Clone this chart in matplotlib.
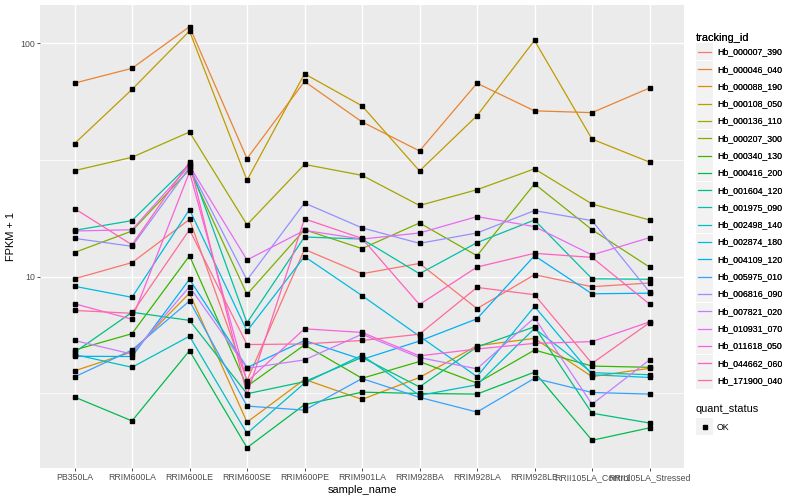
import numpy as np
import matplotlib
matplotlib.use("Agg")
import matplotlib.pyplot as plt
from matplotlib.lines import Line2D
from matplotlib.patches import Rectangle
from matplotlib.legend_handler import HandlerBase
from matplotlib.ticker import FixedLocator, NullFormatter

plt.rcParams['font.family'] = ['Liberation Sans', 'DejaVu Sans']

# Samples (x axis)
samples = ['PB350LA', 'RRIM600LA', 'RRIM600LE', 'RRIM600SE', 'RRIM600PE', 'RRIM901LA',
           'RRIM928BA', 'RRIM928LA', 'RRIM928LE', 'RRII105LA_Control', 'RRII105LA_Stressed']

# Genes (one line each), values are FPKM + 1
genes = ['Hb_000007_390', 'Hb_000046_040', 'Hb_000088_190', 'Hb_000108_050', 'Hb_000136_110',
         'Hb_000207_300', 'Hb_000340_130', 'Hb_000416_200', 'Hb_001604_120', 'Hb_001975_090',
         'Hb_002498_140', 'Hb_002874_180', 'Hb_004109_120', 'Hb_005975_010', 'Hb_006816_090',
         'Hb_007821_020', 'Hb_010931_070', 'Hb_011618_050', 'Hb_044662_060', 'Hb_171900_040']

hb_000007_390 = [9.8, 11.5, 17.6, 3.59, 13.1, 10.3, 11.4, 7.3, 10.2, 9.06, 9.4]
hb_000046_040 = [67.6, 78.2, 118, 32.1, 68.7, 46.1, 34.6, 67.5, 51.4, 50.5, 64.4]
hb_000088_190 = [3.95, 4.76, 8.5, 2.38, 3.63, 2.98, 3.7, 5.06, 5.44, 3.73, 4.05]
hb_000108_050 = [37.2, 63.5, 113, 25.9, 74.1, 54, 28.4, 49, 103, 38.9, 31]
hb_000136_110 = [28.5, 32.5, 41.7, 16.7, 30.3, 27.2, 20.2, 23.6, 29.0, 20.5, 17.5]
hb_000207_300 = [12.7, 15.7, 28.8, 8.4, 15.9, 13.2, 17.0, 12.3, 25, 15.9, 11.0]
hb_000340_130 = [4.85, 5.70, 12.3, 3.39, 5.1, 3.67, 4.33, 3.5, 4.85, 4.14, 4.09]
hb_000416_200 = [3.05, 2.41, 4.82, 1.85, 2.83, 3.2, 3.16, 3.14, 3.9, 1.99, 2.25]
hb_001604_120 = [4.74, 7.04, 6.5, 3.15, 3.55, 4.51, 3.37, 5.0, 6.1, 2.6, 2.36]
hb_001975_090 = [15.8, 17.4, 30.4, 6.35, 14.8, 14.5, 10.3, 14.0, 17.5, 9.8, 9.75]
hb_002498_140 = [4.64, 4.09, 5.56, 2.13, 3.5, 4.61, 3.1, 3.44, 6.0, 3.88, 3.8]
hb_002874_180 = [9.1, 8.16, 19.4, 5.85, 12.2, 8.3, 5.56, 3.73, 7.46, 3.8, 3.7]
hb_004109_120 = [4.56, 4.55, 9.75, 4.08, 5.33, 4.42, 5.3, 6.6, 12.3, 8.45, 8.5]
hb_005975_010 = [3.72, 4.85, 7.87, 2.79, 2.68, 3.66, 3.04, 2.63, 3.67, 3.19, 3.14]
hb_006816_090 = [14.6, 13.5, 29.4, 9.68, 20.7, 16.2, 13.9, 15.4, 19.2, 17.4, 8.6]
hb_007821_020 = [5.33, 4.66, 9.06, 4.05, 4.4, 5.67, 4.5, 4.03, 6.67, 2.84, 4.4]
hb_010931_070 = [15.7, 15.9, 29.9, 11.8, 15.8, 14.5, 15.4, 18.1, 16.4, 12.4, 14.7]
hb_011618_050 = [7.66, 6.57, 28.1, 3.55, 5.98, 5.77, 4.58, 4.9, 5.18, 5.27, 6.4]
hb_044662_060 = [19.6, 13.7, 31.0, 3.12, 17.7, 14.6, 7.6, 11.0, 12.6, 12.1, 7.63]
hb_171900_040 = [7.17, 6.97, 15.9, 5.12, 5.15, 5.33, 5.67, 9.0, 8.37, 4.25, 6.35]

series = [hb_000007_390, hb_000046_040, hb_000088_190, hb_000108_050, hb_000136_110,
          hb_000207_300, hb_000340_130, hb_000416_200, hb_001604_120, hb_001975_090,
          hb_002498_140, hb_002874_180, hb_004109_120, hb_005975_010, hb_006816_090,
          hb_007821_020, hb_010931_070, hb_011618_050, hb_044662_060, hb_171900_040]


def hcl_hex(h, c=100.0, l=65.0):
    # R style hcl() -> sRGB, same as ggplot's hue palette
    hr = np.deg2rad(h)
    U, V = c * np.cos(hr), c * np.sin(hr)
    Xn, Yn, Zn = 95.047, 100.0, 108.883
    Y = Yn * ((l + 16) / 116) ** 3
    un = 4 * Xn / (Xn + 15 * Yn + 3 * Zn)
    vn = 9 * Yn / (Xn + 15 * Yn + 3 * Zn)
    u = U / (13 * l) + un
    v = V / (13 * l) + vn
    X = 9.0 * Y * u / (4 * v)
    Z = -X / 3 - 5 * Y + 3 * Y / v
    X, Y, Z = X / 100, Y / 100, Z / 100
    rgb = [3.240479 * X - 1.537150 * Y - 0.498535 * Z,
           -0.969256 * X + 1.875992 * Y + 0.041556 * Z,
           0.055648 * X - 0.204043 * Y + 1.057311 * Z]
    out = []
    for t in rgb:
        t = 1.055 * t ** (1 / 2.4) - 0.055 if t > 0.0031308 else 12.92 * t
        out.append(min(max(t, 0), 1))
    return tuple(out)


n = len(genes)
colors = [hcl_hex(15 + 360 * i / n) for i in range(n)]

fig = plt.figure(figsize=(8, 5), dpi=100)
ax = fig.add_axes([0.05, 0.064, 0.805, 0.926])
ax.set_facecolor('#EBEBEB')
for s in ax.spines.values():
    s.set_visible(False)

x = np.arange(len(samples))
for vals, col in zip(series, colors):
    ax.plot(x, vals, color=col, lw=0.9, zorder=2)
for vals in series:
    ax.plot(x, vals, ls='none', marker='s', ms=2.3, color='black', zorder=3)

ax.set_yscale('log')
ax.set_ylim(1.514, 146.1)
ax.set_xlim(-0.6, len(samples) - 0.4)
ax.yaxis.set_major_locator(FixedLocator([10, 100]))
ax.set_yticklabels(['10', '100'])
ax.yaxis.set_minor_locator(FixedLocator([10 ** 0.5, 10 ** 1.5]))
ax.yaxis.set_minor_formatter(NullFormatter())
ax.set_xticks(x)
ax.set_xticklabels(samples)
ax.grid(True, which='major', color='white', lw=1.0, zorder=0)
ax.grid(True, which='minor', axis='y', color='white', lw=0.5, zorder=0)
ax.set_axisbelow(True)
ax.tick_params(which='major', length=2.2, width=0.6, color='#333333',
               labelcolor='#4D4D4D', labelsize=6.3, pad=1.5)
ax.tick_params(which='minor', length=0)
ax.set_xlabel('sample_name', fontsize=7.9, labelpad=2)
ax.set_ylabel('FPKM + 1', fontsize=7.9, labelpad=3)


class KeyLine(HandlerBase):
    def create_artists(self, legend, orig, xd, yd, w, h, fs, trans):
        bg = Rectangle((-xd, -yd), w, h, fc='#F2F2F2', ec='none', transform=trans)
        ln = Line2D([-xd + 0.1 * w, -xd + 0.9 * w], [-yd + h / 2] * 2,
                    color=orig.get_color(), lw=0.9, transform=trans)
        return [bg, ln]


class KeyPoint(HandlerBase):
    def create_artists(self, legend, orig, xd, yd, w, h, fs, trans):
        bg = Rectangle((-xd, -yd), w, h, fc='#F2F2F2', ec='none', transform=trans)
        pt = Line2D([-xd + w / 2], [-yd + h / 2], ls='none', marker='s', ms=2.3,
                    color='black', transform=trans)
        return [bg, pt]


line_handles = [Line2D([], [], color=c) for c in colors]
leg1 = fig.legend(line_handles, genes, loc='upper left',
                  bbox_to_anchor=(696 / 800, 1 - 33 / 500), frameon=False,
                  title='tracking_id', title_fontsize=7.9, fontsize=6.3,
                  handler_map={Line2D: KeyLine()}, handlelength=1.95, handleheight=2.61,
                  labelspacing=0.035, handletextpad=0.45, borderpad=0, borderaxespad=0,
                  alignment='left')
fig.add_artist(leg1)

pt_handle = Line2D([], [], marker='s', color='black', ls='none')
leg2 = fig.legend([pt_handle], ['OK'], loc='upper left',
                  bbox_to_anchor=(696 / 800, 1 - 404 / 500), frameon=False,
                  title='quant_status', title_fontsize=7.9, fontsize=6.3,
                  handler_map={Line2D: KeyPoint()}, handlelength=1.95, handleheight=2.61,
                  handletextpad=0.45, borderpad=0, borderaxespad=0, alignment='left')

fig.savefig('out.png', dpi=100)
